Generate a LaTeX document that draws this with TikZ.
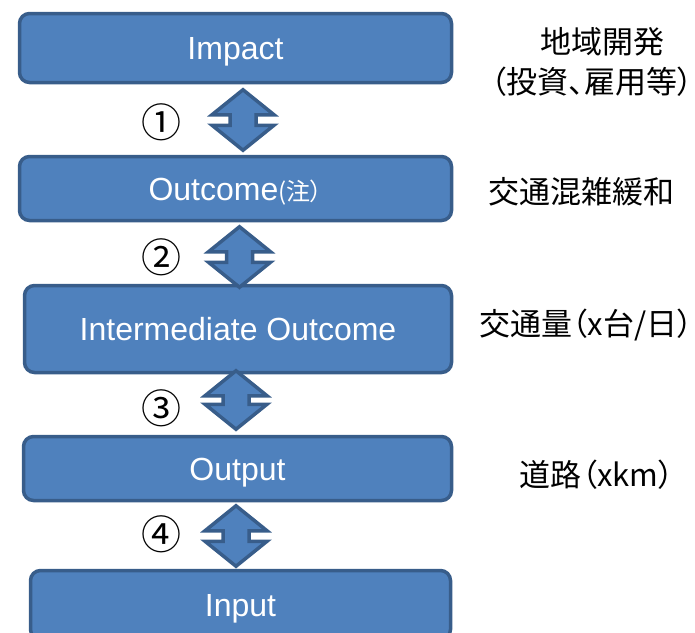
\documentclass[tikz,border=0pt]{standalone}
\usepackage{fontspec}
\setmainfont{Liberation Sans}
\newfontfamily\jp[RawFeature=+palt]{Noto Sans CJK JP}
\usepackage{tikz}
\usetikzlibrary{calc}
\definecolor{BoxColor}{RGB}{79,129,189}
\definecolor{EdgeColor}{RGB}{56,93,138}
\tikzset{
  stage/.style={draw=EdgeColor, fill=BoxColor, line width=3.5pt, rounded corners=10pt, text=white,
    font=\fontsize{32}{38}\selectfont, text height=23pt, text depth=0pt, inner sep=0pt},
  link/.style={draw=EdgeColor, fill=BoxColor, line width=3.5pt, line join=miter},
  note/.style={font=\jp\fontsize{31}{40}\selectfont, text=black, align=center, inner sep=0pt},
  num/.style={font=\jp\fontsize{40}{42}\selectfont, inner sep=0pt}
}
% double headed block arrow between two tips
\newcommand{\twoway}[2]{%
  \coordinate (tw-top) at (#1);
  \coordinate (tw-bot) at (#2);
  \draw[link] (tw-top) -- ++(31,25) -- ++(-18,0) -- ($(tw-bot)+(13,-25)$) -- ++(18,0)
    -- (tw-bot) -- ++(-31,-25) -- ++(18,0) -- ($(tw-top)+(-13,25)$) -- ++(-18,0) -- cycle;}

\begin{document}
\begin{tikzpicture}[x=1pt, y=-1pt]
    \useasboundingbox (0,0) rectangle (695,632);
    \clip (0,0) rectangle (695,632);

    % Stages
    \node[stage, minimum width=432, minimum height=69] (impact) at (235.5,48) {Impact};
    \node[stage, minimum width=432, minimum height=64] (outcome) at (235.5,188.5) {Outcome{\jp\fontsize{24}{28}\selectfont(注）}};
    \node[stage, minimum width=427, minimum height=87] (midout) at (238,329) {Intermediate Outcome};
    \node[stage, minimum width=428, minimum height=64] (output) at (237.5,468.5) {Output};
    \node[stage, minimum width=420, minimum height=69] (input) at (240.5,605) {Input};

    % Arrows
    \twoway{$(impact.south)+(7.5,5.5)$}{$(outcome.north)+(7.5,-4.5)$}
    \twoway{$(outcome.south)+(4,4.5)$}{$(midout.north)+(1.5,3.5)$}
    \twoway{$(midout.south)+(-2,-3.5)$}{$(output.north)+(-1.5,-5.5)$}
    \twoway{$(output.south)+(-1.5,3.5)$}{$(input.north)+(-4.5,-2.5)$}

    % Step numbers
    \node[num] (n1) at (161,122) {①};
    \node[num] (n2) at (161,257) {②};
    \node[num] (n3) at (161,408) {③};
    \node[num] (n4) at (161,534) {④};

    % Examples
    \node[note] (l1) at (592,62) {\hspace*{20pt}地域開発\\（投資、雇用等）};
    \node[note] (l2) at (581,192) {交通混雑緩和};
    \node[note] (l3) at (586,325) {交通量（x台/日）};
    \node[note] (l4) at (597,475) {道路（xkm）};
\end{tikzpicture}
\end{document}
